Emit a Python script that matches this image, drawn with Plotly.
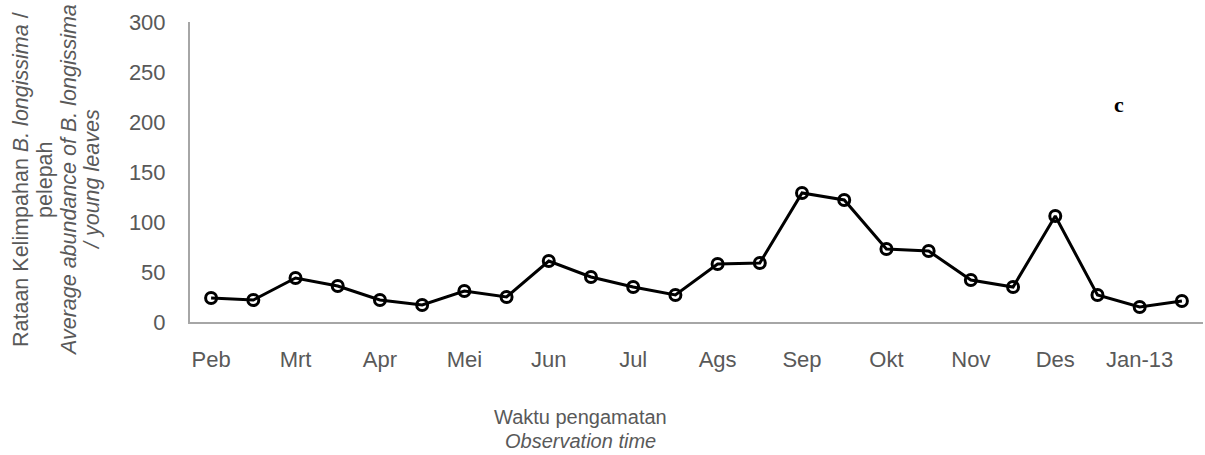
import plotly.graph_objects as go

month_labels = ["Peb", "Mrt", "Apr", "Mei", "Jun", "Jul", "Ags", "Sep", "Okt", "Nov", "Des", "Jan-13"]
abundance = [24, 22, 44, 36, 22, 17, 31, 25, 61, 45, 35, 27,
             58, 59, 129, 122, 73, 71, 42, 35, 106, 27, 15, 21]
y_ticks = [0, 50, 100, 150, 200, 250, 300]

obs = list(range(len(abundance)))
tick_pos = obs[::2]

W, H = 1205, 455
L, R, T, B = 190, 2, 22, 133
grey = "#595959"
font_main = "Liberation Sans, Arial, sans-serif"

fig = go.Figure()
fig.add_trace(go.Scatter(
    x=obs, y=abundance, mode="lines+markers",
    line=dict(color="black", width=3),
    marker=dict(symbol="circle-open", size=11, color="black", line=dict(width=3, color="black")),
    showlegend=False, hoverinfo="skip",
))

fig.update_layout(
    width=W, height=H,
    margin=dict(l=L, r=R, t=T, b=B, pad=0),
    paper_bgcolor="white", plot_bgcolor="white",
    font=dict(family=font_main, size=22, color=grey),
    xaxis=dict(
        range=[-0.5, len(abundance) - 0.5],
        tickmode="array", tickvals=tick_pos, ticktext=month_labels,
        showgrid=False, zeroline=False,
        showline=True, linecolor="#a6a6a6", linewidth=2,
        ticks="", ticklabelstandoff=17,
        tickfont=dict(size=22, color=grey),
    ),
    yaxis=dict(
        range=[0, 300], tickmode="array", tickvals=y_ticks,
        showgrid=False, zeroline=False,
        showline=True, linecolor="#a6a6a6", linewidth=2,
        ticks="", ticklabelstandoff=18,
        tickfont=dict(size=22, color=grey),
    ),
)

# y-axis title lines (rotated)
ytitle_lines = [
    "Rataan Kelimpahan <i>B. longissima</i> /",
    "pelepah",
    "<i>Average abundance of B. longissima</i>",
    "<i>/ young leaves</i>",
]
ytitle_x = [21, 45, 69, 92]
for txt, px in zip(ytitle_lines, ytitle_x):
    fig.add_annotation(
        text=txt, textangle=-90,
        xref="paper", yref="paper",
        x=(px - L) / (W - L - R), y=(H - B - 180) / (H - T - B),
        xanchor="center", yanchor="middle", showarrow=False,
        font=dict(family=font_main, size=21.5, color=grey),
    )

xtitle_lines = ["Waktu pengamatan", "<i>Observation time</i>"]
xtitle_y = [417, 441]
for txt, py in zip(xtitle_lines, xtitle_y):
    fig.add_annotation(
        text=txt, xref="paper", yref="paper",
        x=(580 - L) / (W - L - R), y=(H - B - py) / (H - T - B),
        xanchor="center", yanchor="middle", showarrow=False,
        font=dict(family=font_main, size=20, color=grey),
    )

fig.add_annotation(
    text="<b>c</b>", xref="paper", yref="paper",
    x=(1119 - L) / (W - L - R), y=(H - B - 105) / (H - T - B),
    xanchor="center", yanchor="middle", showarrow=False,
    font=dict(family="Liberation Serif, Times New Roman, serif", size=22, color="black"),
)

fig.write_html("out.html")
